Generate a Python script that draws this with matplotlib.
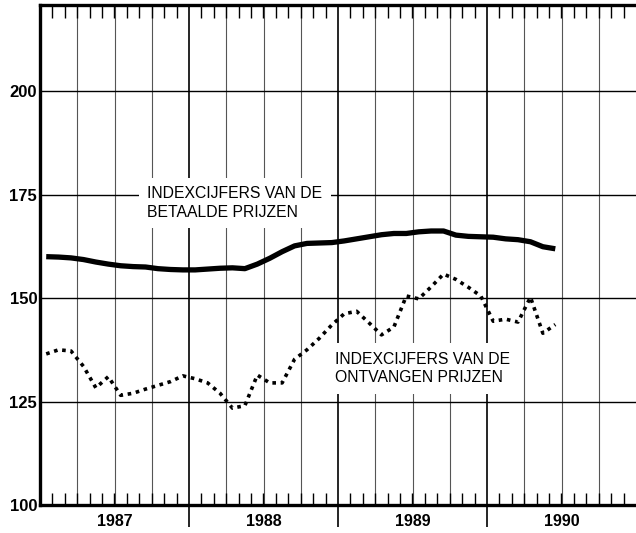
import numpy as np
import matplotlib
matplotlib.use("Agg")
import matplotlib.pyplot as plt
import matplotlib.transforms as mtransforms

plt.rcParams['font.family'] = ['Liberation Sans', 'DejaVu Sans']

# monthly index figures, Jan 1987 .. Jun 1990
months = 1987 + (np.arange(42) + 0.5) / 12
betaald = [160.0, 159.9, 159.7, 159.3, 158.7, 158.2, 157.8, 157.6, 157.5, 157.1, 156.9, 156.8,
           156.8, 157.0, 157.2, 157.3, 157.1, 158.2, 159.6, 161.2, 162.6, 163.2, 163.3, 163.4,
           163.8, 164.3, 164.8, 165.3, 165.6, 165.6, 166.0, 166.2, 166.2, 165.2, 164.9, 164.8,
           164.7, 164.3, 164.1, 163.6, 162.4, 161.9]
ontvangen = [136.5, 137.5, 137.2, 133.5, 128.3, 131.0, 126.5, 127.0, 128.0, 128.9, 129.8, 131.2,
             130.5, 129.5, 127.0, 123.4, 124.0, 131.4, 129.5, 129.5, 135.2, 137.5, 140.3, 143.5,
             146.2, 146.8, 144.0, 141.1, 143.0, 150.5, 149.8, 152.7, 155.8, 154.5, 152.6, 150.5,
             144.4, 144.9, 144.2, 150.2, 141.5, 143.6]
years = [1987, 1988, 1989, 1990]
yticks = [100, 125, 150, 175, 200]

fig = plt.figure(figsize=(6.36, 5.33), dpi=100)
ax = fig.add_axes([40 / 636, 28 / 533, 596 / 636, 500 / 533])
ax.set_xlim(1987, 1991)
ax.set_ylim(100, 220.8)

# grid
for q in np.arange(1987.25, 1991, 0.25):
    if abs(q - round(q)) < 1e-6:
        ax.axvline(q, color='black', lw=1.2, zorder=1)
    else:
        ax.axvline(q, color='#555555', lw=0.8, zorder=1)
for y in yticks[1:]:
    ax.axhline(y, color='black', lw=1.0, zorder=1)

ax.plot(months, betaald, color='black', lw=3.8, solid_capstyle='butt', zorder=3)
ax.plot(months, ontvangen, color='black', lw=2.6, linestyle=(0, (1.0, 1.3)), zorder=3)

box = dict(facecolor='white', edgecolor='none', pad=6)
ax.text(1987.72, 173.0, "INDEXCIJFERS VAN DE\nBETAALDE PRIJZEN", fontsize=11.3,
        va='center', ha='left', linespacing=1.3, bbox=box, zorder=2)
ax.text(1988.98, 133.0, "INDEXCIJFERS VAN DE\nONTVANGEN PRIJZEN", fontsize=11.3,
        va='center', ha='left', linespacing=1.3, bbox=box, zorder=2)

# spines
for s in ['left', 'top', 'bottom']:
    ax.spines[s].set_linewidth(2.4)
ax.spines['right'].set_visible(False)

# ticks
ax.set_yticks(yticks)
ax.set_yticklabels([str(v) for v in yticks], fontweight='heavy', fontsize=12)
ax.tick_params(axis='y', length=0, pad=2)
ax.set_xticks(years[1:])
ax.set_xticklabels([])
ax.set_xticks(np.arange(1987, 1991, 1 / 12), minor=True)
ax.tick_params(axis='x', which='major', direction='out', length=16, width=1.2)
ax.tick_params(axis='x', which='minor', direction='in', length=9, width=1.0, top=True)

trans = mtransforms.blended_transform_factory(ax.transData, ax.transAxes)
for yr in years:
    ax.text(yr + 0.5, -0.032, str(yr), transform=trans, ha='center', va='center',
            fontweight='heavy', fontsize=11.5)

fig.savefig("out.png", dpi=100)
